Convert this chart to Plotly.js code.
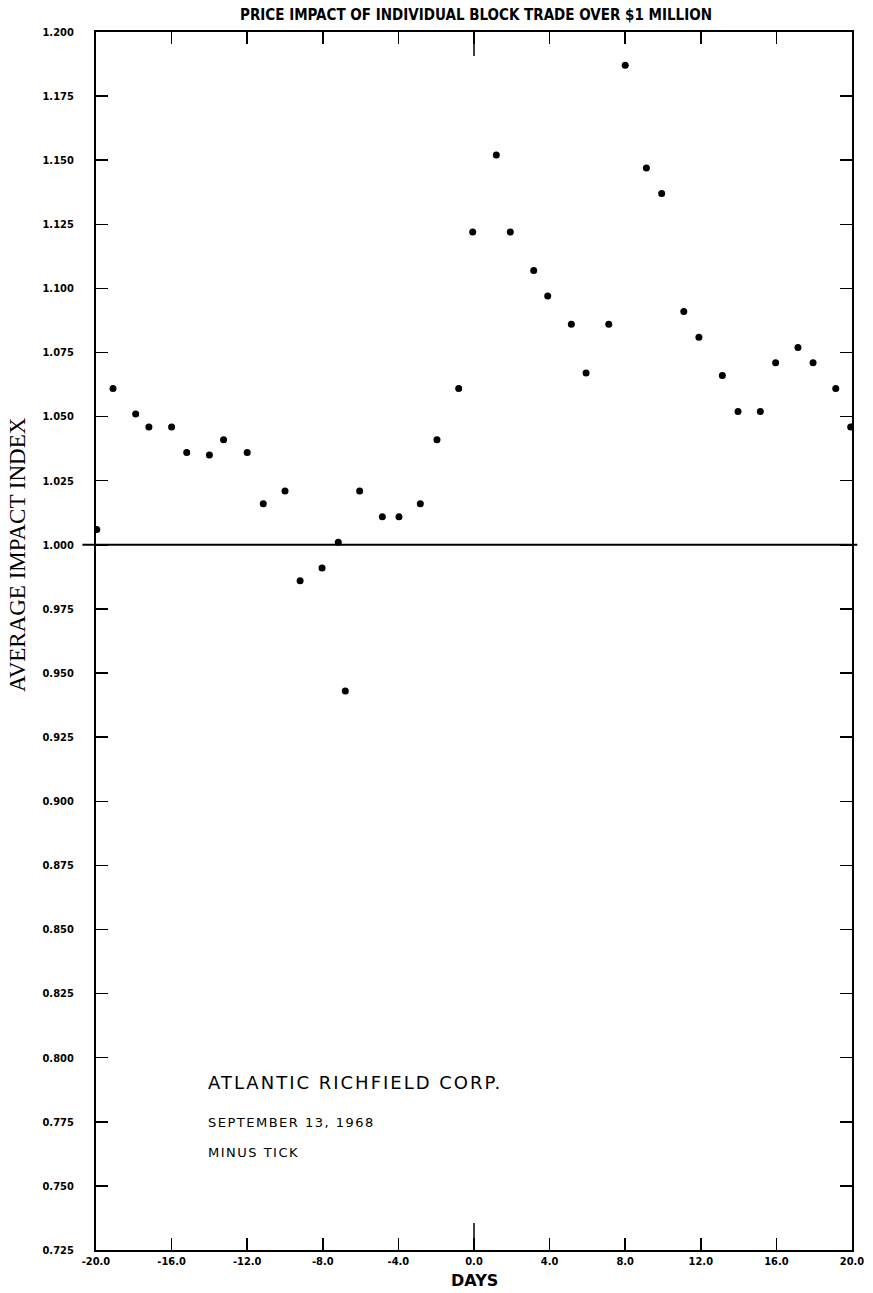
<!DOCTYPE html>
<html>
<head>
<meta charset="utf-8">
<script src="https://cdn.plot.ly/plotly-3.0.1.min.js"></script>
<style>
  html, body { margin: 0; padding: 0; background: #ffffff; }
  #chart { width: 873px; height: 1293px; }
  g.annotation[data-index="2"] text { letter-spacing: 2px; }
  g.annotation[data-index="3"] text,
  g.annotation[data-index="4"] text { letter-spacing: 1.5px; }
</style>
</head>
<body>
<div id="chart"></div>
<script>
// Days relative to the block trade and the average impact index
const days = [-19.96, -19.1, -17.9, -17.2, -16.0, -15.2, -14.0, -13.25, -12.0, -11.15,
              -10.0, -9.2, -8.04, -7.18, -6.81, -6.05, -4.85, -3.97, -2.84, -1.96,
              -0.81, -0.07, 1.18, 1.92, 3.16, 3.9, 5.15, 5.93, 7.13, 8.0,
              9.12, 9.93, 11.1, 11.9, 13.14, 13.97, 15.15, 15.96, 17.14, 17.94,
              19.14, 19.93];
const impact = [1.006, 1.061, 1.051, 1.046, 1.046, 1.036, 1.035, 1.041, 1.036, 1.016,
                1.021, 0.986, 0.991, 1.001, 0.943, 1.021, 1.011, 1.011, 1.016, 1.041,
                1.061, 1.122, 1.152, 1.122, 1.107, 1.097, 1.086, 1.067, 1.086, 1.187,
                1.147, 1.137, 1.091, 1.081, 1.066, 1.052, 1.052, 1.071, 1.077, 1.071,
                1.061, 1.046];

const xTickVals = [-20, -16, -12, -8, -4, 0, 4, 8, 12, 16, 20];
const xTickText = ["-20.0", "-16.0", "-12.0", "-8.0", "-4.0", "0.0", "4.0", "8.0", "12.0", "16.0", "20.0"];
const yTickVals = [0.725, 0.750, 0.775, 0.800, 0.825, 0.850, 0.875, 0.900, 0.925, 0.950,
                   0.975, 1.000, 1.025, 1.050, 1.075, 1.100, 1.125, 1.150, 1.175, 1.200];
const yTickText = ["0.725", "0.750", "0.775", "0.800", "0.825", "0.850", "0.875", "0.900", "0.925", "0.950",
                   "0.975", "1.000", "1.025", "1.050", "1.075", "1.100", "1.125", "1.150", "1.175", "1.200"];

const titleText = "PRICE IMPACT OF INDIVIDUAL BLOCK TRADE OVER $1 MILLION";
const yTitle = "AVERAGE IMPACT INDEX";
const xTitle = "DAYS";
const company = "ATLANTIC RICHFIELD CORP.";
const dateText = "SEPTEMBER 13, 1968";
const tickType = "MINUS TICK";

const condensed = "'Liberation Sans Narrow', 'DejaVu Sans Condensed', 'Arial Narrow', sans-serif";

const trace = {
  x: days, y: impact, type: 'scatter', mode: 'markers',
  marker: { color: '#000000', size: 7 },
  hoverinfo: 'x+y', showlegend: false
};

const layout = {
  width: 873, height: 1293,
  margin: { l: 96, r: 21, t: 32, b: 43, pad: 0 },
  paper_bgcolor: '#ffffff', plot_bgcolor: '#ffffff',
  showlegend: false,
  title: {
    text: titleText,
    font: { family: condensed, size: 15, color: '#000', weight: 'bold' },
    x: 476 / 873, xanchor: 'center', xref: 'container',
    y: 1 - 15 / 1293, yanchor: 'middle', yref: 'container'
  },
  xaxis: {
    range: [-20, 20], autorange: false,
    tickmode: 'array', tickvals: xTickVals, ticktext: xTickText,
    ticks: 'inside', ticklen: 12, tickwidth: 1.5, tickcolor: '#000',
    showline: true, linecolor: '#000', linewidth: 2, mirror: 'ticks',
    showgrid: false, zeroline: false,
    tickfont: { family: condensed, size: 11, color: '#000', weight: 'bold' }
  },
  yaxis: {
    range: [0.725, 1.2], autorange: false,
    tickmode: 'array', tickvals: yTickVals, ticktext: yTickText,
    ticks: 'inside', ticklen: 12, tickwidth: 1.5, tickcolor: '#000',
    showline: true, linecolor: '#000', linewidth: 2, mirror: 'ticks',
    showgrid: false, zeroline: false,
    ticklabelstandoff: 18,
    tickfont: { family: condensed, size: 11, color: '#000', weight: 'bold' }
  },
  shapes: [
    { type: 'line', xref: 'paper', yref: 'y', x0: -0.018, x1: 1.007, y0: 1.0, y1: 1.0,
      line: { color: '#000', width: 2 } },
    { type: 'line', xref: 'x', yref: 'paper', x0: 0, x1: 0, y0: 0, y1: 27 / 1218,
      line: { color: '#000', width: 1.5 } },
    { type: 'line', xref: 'x', yref: 'paper', x0: 0, x1: 0, y0: 1, y1: 1 - 24 / 1218,
      line: { color: '#000', width: 1.5 } }
  ],
  annotations: [
    { text: yTitle, xref: 'paper', yref: 'paper', x: (17 - 96) / 756, y: (1250 - 555) / 1218,
      xanchor: 'center', yanchor: 'middle', textangle: -90, showarrow: false,
      font: { family: "'Liberation Serif', 'DejaVu Serif', serif", size: 23, color: '#000' } },
    { text: xTitle, xref: 'paper', yref: 'paper', x: 0.5, y: (1250 - 1280) / 1218,
      xanchor: 'center', yanchor: 'middle', showarrow: false,
      font: { family: "'DejaVu Sans', sans-serif", size: 16, color: '#000', weight: 'bold' } },
    { text: company, xref: 'paper', yref: 'paper', x: (206 - 96) / 756, y: (1250 - 1082) / 1218,
      xanchor: 'left', yanchor: 'middle', align: 'left', showarrow: false,
      font: { family: "'DejaVu Sans', sans-serif", size: 18, color: '#000' } },
    { text: dateText, xref: 'paper', yref: 'paper', x: (206 - 96) / 756, y: (1250 - 1122) / 1218,
      xanchor: 'left', yanchor: 'middle', align: 'left', showarrow: false,
      font: { family: "'DejaVu Sans', sans-serif", size: 13, color: '#000' } },
    { text: tickType, xref: 'paper', yref: 'paper', x: (206 - 96) / 756, y: (1250 - 1152) / 1218,
      xanchor: 'left', yanchor: 'middle', align: 'left', showarrow: false,
      font: { family: "'DejaVu Sans', sans-serif", size: 13, color: '#000' } }
  ]
};

Plotly.newPlot('chart', [trace], layout, { displayModeBar: false, staticPlot: true });
</script>
</body>
</html>
